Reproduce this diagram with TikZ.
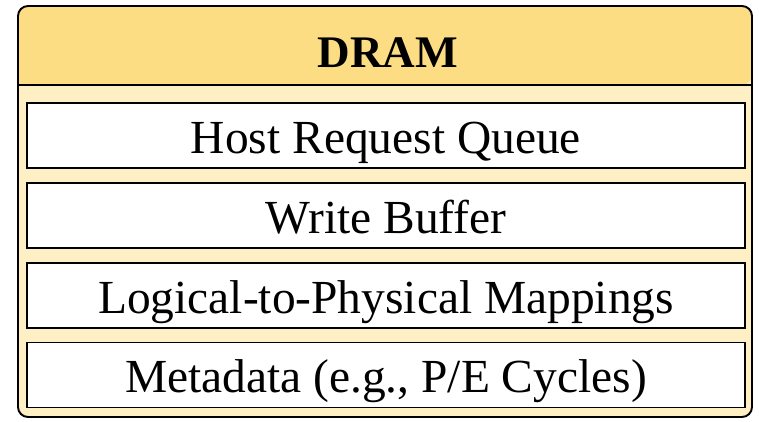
\documentclass[tikz,border=0pt]{standalone}
\usepackage{fontspec}
\setmainfont{Liberation Serif}
\usepackage{xcolor}
\usepackage{tikz}
\definecolor{dramhead}{HTML}{FDDD83}
\definecolor{drambody}{HTML}{FEF0C4}

\begin{document}
\begin{tikzpicture}[x=1cm, y=1cm]
    \tikzset{part/.style={rectangle, draw=black, fill=white, line width=1.1pt,
                          minimum width=14.36cm, minimum height=1.30cm, inner sep=0pt,
                          text height=0.85cm, text depth=0.15cm,
                          font=\fontsize{27}{32}\selectfont},
             title/.style={font=\fontsize{25.7}{30}\selectfont\bfseries, anchor=base}}
    \useasboundingbox (0,0) rectangle (15.18,8.42);
    % outer box: light body, darker head
    \fill[drambody, rounded corners=0.2cm] (0.36,0.08) rectangle (15.04,8.30);
    \fill[dramhead, rounded corners=0.2cm] (0.36,6.72) -- (0.36,8.30) -- (15.04,8.30) -- (15.04,6.72) [sharp corners] -- cycle;
    \draw[line width=0.8pt] (0.36,6.72) -- (15.04,6.72);
    \draw[line width=1.1pt, rounded corners=0.2cm] (0.36,0.08) rectangle (15.04,8.30);
    \node[title] (dram) at (7.76,7.08) {DRAM};
    \node[part] (queue) at (7.72,5.71) {Host Request Queue};
    \node[part] (wbuf) at (7.72,4.11) {Write Buffer};
    \node[part] (ltop) at (7.72,2.51) {Logical-to-Physical Mappings};
    \node[part] (meta) at (7.72,0.92) {Metadata (e.g., P/E Cycles)};
\end{tikzpicture}
\end{document}
